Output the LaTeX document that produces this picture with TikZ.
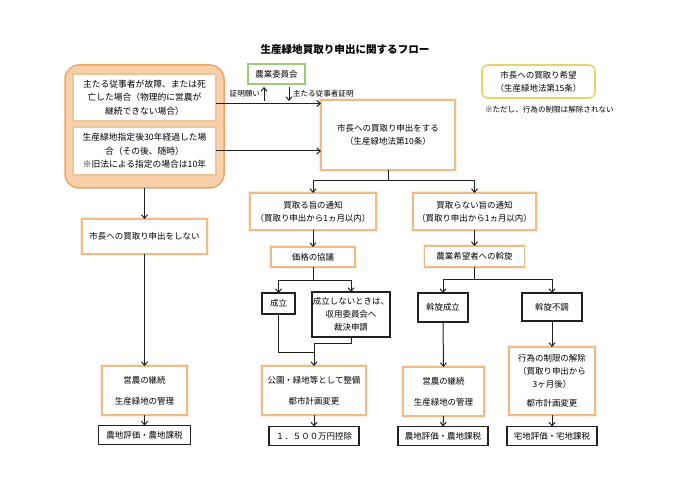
\documentclass[tikz,border=0pt]{standalone}
\usepackage{fontspec}
\setmainfont{Noto Sans CJK JP}
\usetikzlibrary{arrows.meta,calc}
\definecolor{ob}{HTML}{ECBD88}
\definecolor{ib}{HTML}{EDC59A}
\definecolor{bigfill}{HTML}{FAD0AA}
\definecolor{bigdraw}{HTML}{EBA86A}
\definecolor{gb}{HTML}{9DC97A}
\definecolor{yb}{HTML}{E8D36A}
\definecolor{ln}{HTML}{202020}
\begin{document}
\begin{tikzpicture}[x=1bp,y=-1bp,
  every node/.style={inner sep=0pt, outer sep=0pt, align=center, font=\fontsize{8.5}{13}\selectfont},
  wh/.style 2 args={minimum width=#1bp, minimum height=#2bp},
  obox/.style={draw=ob, line width=1.2bp, fill=white, preaction={draw=ob!25, line width=3.6bp}},
  ibox/.style={draw=ib, line width=1.2bp, fill=white, font=\fontsize{8.8}{13.5}\selectfont},
  kbox/.style={draw=ln, line width=1.1bp, fill=white},
  arr/.style={draw=ln, line width=1bp, -{Straight Barb[length=3.5bp,width=6bp]}},
  ln/.style={draw=ln, line width=1bp},
  small/.style={font=\fontsize{7.6}{9}\selectfont}
]
\useasboundingbox (0,0) rectangle (700,494);
\fill[white] (0,0) rectangle (700,494);

% title
\node[font=\bfseries\fontsize{10.6}{12}\selectfont] (title) at (345,50) {生産緑地買取り申出に関するフロー};

% left group
\node[draw=bigdraw, fill=bigfill, line width=1.5bp, rounded corners=14bp, wh={159}{123}] (big) at (144.5,126.5) {};
\node[ibox, wh={143}{47}] (c1) at (144.5,97.5) {主たる従事者が故障、または死\\亡した場合（物理的に営農が\\継続できない場合）};
\node[ibox, wh={143}{48}] (c2) at (144.5,151) {生産緑地指定後30年経過した場\\合（その後、随時）\\※旧法による指定の場合は10年};

% top middle
\node[draw=gb, line width=1.4bp, fill=white, wh={57}{20}] (nk) at (276.5,74) {農業委員会};
\node[obox, wh={134}{70}] (main) at (388,135) {市長への買取り申出をする\\（生産緑地法第10条）};
\node[draw=yb, line width=1.6bp, rounded corners=6bp, fill=white, wh={113}{33}] (kibou) at (538.5,81.5) {市長への買取り希望\\（生産緑地法第15条）};
\node[small, anchor=west] (note) at (485,110) {※ただし、行為の制限は解除されない};

\node[small, anchor=east] (t1) at (260,94) {証明願い};
\node[small, anchor=west] (t2) at (293,94) {主たる従事者証明};
\coordinate (u1) at (264,101);
\coordinate (u2) at (264,87);
\coordinate (d1) at (289,87);
\coordinate (d2) at (289,101);
\draw[arr] (u1) -- (u2);
\draw[arr] (d1) -- (d2);

\coordinate (c1o) at ($(c1.east)+(0,6)$);
\draw[arr] (c1o) -- (c1o -| main.west);
\draw[arr] (c2.east) -- (c2.east -| main.west);

% left column
\node[obox, wh={125}{35}] (nl) at (144.5,236.5) {市長への買取り申出をしない};
\node[obox, wh={85}{49}] (e1) at (144.5,390.5) {営農の継続\\[8bp]生産緑地の管理};
\node[kbox, wh={92}{19}] (n1) at (144.5,435) {農地評価・農地課税};
\draw[arr] (big.south) -- (nl.north);
\draw[arr] (nl.south) -- (e1.north);
\draw[arr] (e1.south) -- (n1.north);

% middle column
\node[obox, wh={126}{37}] (kt) at (313,211.5) {買取る旨の通知\\（買取り申出から1ヵ月以内）};
\node[obox, wh={84}{20}] (kk) at (313,257) {価格の協議};
\node[kbox, wh={33}{21}] (se) at (278.5,303.5) {成立};
\node[kbox, wh={78}{45}] (fs) at (351,314.5) {成立しないときは、\\収用委員会へ\\裁決申請};
\node[obox, wh={104}{49}] (ko) at (314,390.5) {公園・緑地等として整備\\[8bp]都市計画変更};
\node[kbox, wh={90}{19}] (kj) at (314,436) {１．５００万円控除};

% right columns
\node[obox, wh={123}{37}] (kn) at (474.5,211.5) {買取らない旨の通知\\（買取り申出から1ヵ月以内）};
\node[obox, wh={100}{21}] (as) at (474.5,256.5) {農業希望者への斡旋};
\node[kbox, wh={50}{29}] (ao) at (443,307.5) {斡旋成立};
\node[kbox, wh={60}{28}] (an) at (552,307) {斡旋不調};
\node[obox, wh={81}{49}] (e2) at (443.5,391.5) {営農の継続\\[8bp]生産緑地の管理};
\node[kbox, wh={90}{19}] (n2) at (443,436) {農地評価・農地課税};
\node[obox, wh={86}{68}] (kc) at (552,381) {行為の制限の解除\\（買取り申出から\\3ヶ月後）\\[6bp]都市計画変更};
\node[kbox, wh={90}{19}] (tk) at (552,436) {宅地評価・宅地課税};

% connectors
\draw[arr] (main.south) -- ++(0,11) -| (kt.north);
\draw[arr] (main.south) -- ++(0,11) -| (kn.north);
\draw[arr] (kt.south) -- (kk.north);
\draw[arr] (kk.south) -- ++(0,13) -| (se.north);
\draw[arr] (kk.south) -- ++(0,13) -| (fs.north);
\coordinate (mg) at ($(ko.north)+(0,-14)$);
\draw[ln] (se.south) |- (mg);
\draw[arr] (fs.south) -- ++(0,6) -| (ko.north);
\draw[arr] (ko.south) -- (kj.north);

\draw[arr] (kn.south) -- (as.north);
\draw[arr] (as.south) -- ++(0,12) -| (ao.north);
\draw[arr] (as.south) -- ++(0,12) -| (an.north);
\draw[arr] (ao.south) -- (e2.north);
\draw[arr] (e2.south) -- (n2.north);
\draw[arr] (an.south) -- (kc.north);
\draw[arr] (kc.south) -- (tk.north);
\end{tikzpicture}
\end{document}
